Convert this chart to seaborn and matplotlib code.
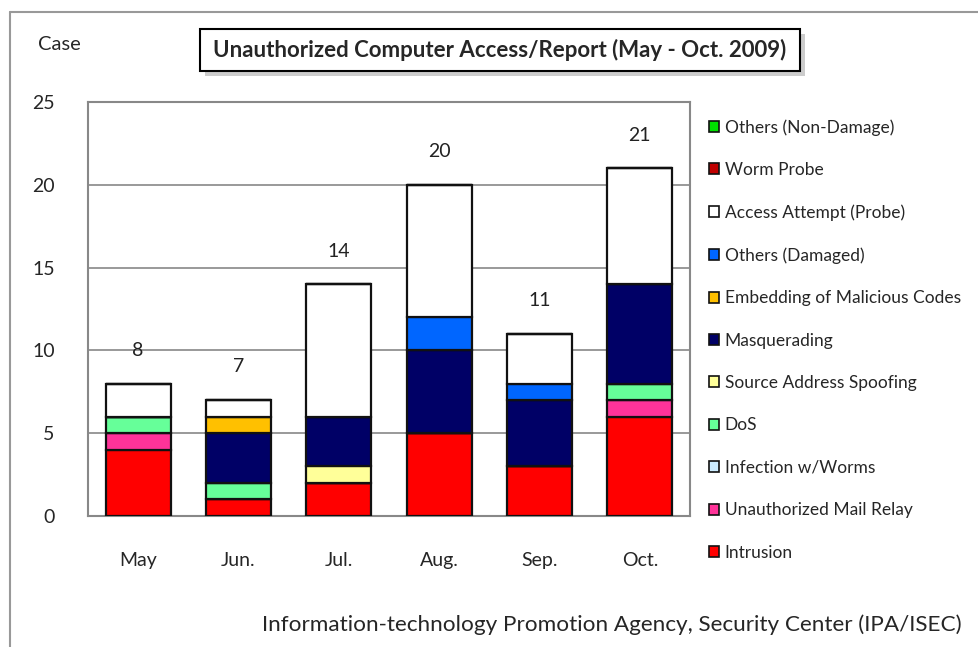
import seaborn as sns
import matplotlib.pyplot as plt
import matplotlib.patches as mpatches
import pandas as pd
import numpy as np

sns.set_style('white')
plt.rcParams['font.family'] = ['Lato', 'DejaVu Sans']

# data (cases per month)
months = ['May', 'Jun.', 'Jul.', 'Aug.', 'Sep.', 'Oct.']
categories = ['Intrusion', 'Unauthorized Mail Relay', 'Infection w/Worms', 'DoS',
              'Source Address Spoofing', 'Masquerading', 'Embedding of Malicious Codes',
              'Others (Damaged)', 'Access Attempt (Probe)', 'Worm Probe', 'Others (Non-Damage)']
intrusion = [4, 1, 2, 5, 3, 6]
mail_relay = [1, 0, 0, 0, 0, 1]
infection = [0, 0, 0, 0, 0, 0]
dos = [1, 1, 0, 0, 0, 1]
spoofing = [0, 0, 1, 0, 0, 0]
masquerading = [0, 3, 3, 5, 4, 6]
embedding = [0, 1, 0, 0, 0, 0]
others_damaged = [0, 0, 0, 2, 1, 0]
access_attempt = [2, 1, 8, 8, 3, 7]
worm_probe = [0, 0, 0, 0, 0, 0]
others_non_damage = [0, 0, 0, 0, 0, 0]
series = [intrusion, mail_relay, infection, dos, spoofing, masquerading, embedding,
          others_damaged, access_attempt, worm_probe, others_non_damage]
colors = ['#FF0000', '#FF3399', '#CCECFF', '#66FF99', '#FFFF99', '#000066', '#FFC000',
          '#0066FF', '#FFFFFF', '#C00000', '#00E000']

df = pd.DataFrame(dict(zip(categories, series)), index=months)
totals = df.sum(axis=1)

fig = plt.figure(figsize=(9.79, 6.47), dpi=100)
ax = fig.add_axes([88 / 979, 1 - 516 / 647, 602 / 979, 414 / 647])

bottom = np.zeros(len(months))
for cat, col in zip(categories, colors):
    vals = df[cat].values
    sns.barplot(x=months, y=vals, bottom=bottom, color=col, saturation=1, width=0.65,
                edgecolor='#111111', linewidth=1.6, ax=ax, zorder=3)
    bottom += vals

# totals above bars
for i, t in enumerate(totals):
    ax.text(i, t + 2.0, str(int(t)), ha='center', va='center', fontsize=14, color='#222222')

ax.set_ylim(0, 25)
ax.set_yticks(range(0, 26, 5))
ax.yaxis.grid(True, color='#888888', linewidth=1.2, zorder=0)
ax.set_axisbelow(True)
for s in ax.spines.values():
    s.set_color('#888888')
    s.set_linewidth(1.5)
ax.tick_params(axis='y', length=0, pad=24, labelsize=14)
ax.tick_params(axis='x', length=0, pad=26, labelsize=14)
ax.set_xlabel('')
ax.set_ylabel('')

# legend (top entry = last series)
handles = [mpatches.Patch(facecolor=c, edgecolor='#111111', linewidth=1.2, label=n)
           for n, c in zip(categories, colors)][::-1]
fig.legend(handles=handles, loc='upper left', bbox_to_anchor=(702 / 979, 1 - 112 / 647),
           frameon=False, fontsize=12.5, handlelength=0.6, handleheight=0.6,
           handletextpad=0.3, labelspacing=1.52, borderaxespad=0)

# "Case" label
fig.text(38 / 979, 1 - 45 / 647, 'Case', fontsize=14.5, va='center', ha='left')

# title box with shadow
fig.patches.append(mpatches.Rectangle((205 / 979, 1 - 76 / 647), 600 / 979, 42 / 647,
                                      transform=fig.transFigure, facecolor='#AAAAAA',
                                      edgecolor='none', alpha=0.6, zorder=1))
fig.patches.append(mpatches.Rectangle((200 / 979, 1 - 71 / 647), 600 / 979, 42 / 647,
                                      transform=fig.transFigure, facecolor='white',
                                      edgecolor='black', linewidth=1.5, zorder=2))
fig.text(500 / 979, 1 - 50 / 647, 'Unauthorized Computer Access/Report (May - Oct. 2009)',
         fontsize=16, fontweight='bold', ha='center', va='center', zorder=3)

# source note
fig.text(962 / 979, 1 - 625 / 647,
         'Information-technology Promotion Agency, Security Center (IPA/ISEC)',
         fontsize=16.2, ha='right', va='center')

# outer frame (left and top edges)
fig.add_artist(plt.Line2D([10 / 979, 10 / 979], [0, 1 - 12 / 647], color='#999999', linewidth=1.5))
fig.add_artist(plt.Line2D([10 / 979, 1], [1 - 12 / 647, 1 - 12 / 647], color='#999999', linewidth=1.5))

fig.savefig('out.png', dpi=100)
plt.close(fig)
